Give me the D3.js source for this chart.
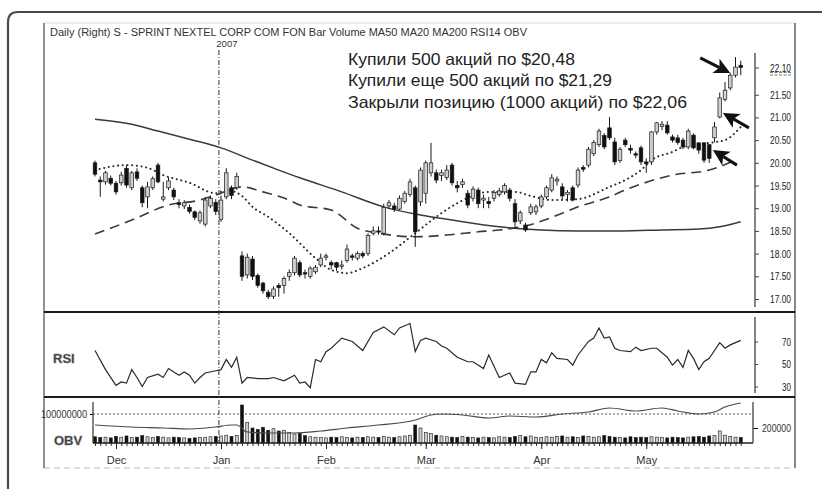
<!DOCTYPE html>
<html><head><meta charset="utf-8">
<script src="https://cdn.jsdelivr.net/npm/d3@7"></script>
<style>body{margin:0;background:#fff}svg{display:block}</style>
</head><body>
<svg id="c" width="822" height="489"></svg>
<script>
// ---- DATA ----
const open = [20.00,19.62,19.58,19.66,19.55,19.56,19.88,19.45,19.80,19.45,
19.25,19.45,19.95,19.20,19.45,19.40,19.12,19.05,19.02,18.92,
18.72,18.65,19.05,19.13,18.75,19.25,19.45,19.45,17.95,17.53,
17.88,17.52,17.35,17.15,17.06,17.30,17.30,17.50,17.58,17.80,
17.58,17.50,17.60,17.75,17.92,17.80,17.80,17.72,17.85,17.95,
17.90,18.00,18.00,18.45,18.50,18.45,19.05,19.05,18.98,19.15,
19.30,19.45,19.14,19.33,19.78,19.78,19.72,19.68,19.95,19.50,
19.52,19.33,19.22,19.40,19.18,19.15,19.22,19.30,19.36,19.40,
19.10,18.72,18.63,18.90,18.92,19.05,19.25,19.40,19.60,19.47,
19.30,19.45,19.51,19.90,19.95,20.20,20.40,20.60,20.77,20.46,
20.05,20.50,20.32,20.20,20.33,20.02,20.02,20.68,20.80,20.83,
20.57,20.55,20.50,20.35,20.61,20.44,20.44,20.40,20.55,21.01,
21.40,21.65,21.93,22.15];
const high = [20.05,19.70,19.82,19.72,19.60,19.80,19.95,19.82,19.88,19.50,
19.58,19.70,20.00,19.58,19.68,19.45,19.20,19.18,19.08,18.95,
18.95,19.25,19.28,19.20,19.28,19.88,19.50,19.78,18.05,18.00,
17.95,17.56,17.38,17.20,17.28,17.35,17.50,17.65,17.95,17.85,
17.65,17.72,17.75,18.00,18.00,17.85,17.82,17.85,18.20,18.00,
18.05,18.05,18.45,18.60,18.60,19.10,19.18,19.12,19.28,19.38,
19.65,19.50,19.90,20.05,20.44,19.85,19.85,19.95,20.00,19.60,
19.65,19.40,19.48,19.45,19.30,19.25,19.40,19.45,19.55,19.45,
19.20,18.95,18.68,19.10,19.08,19.30,19.50,19.75,19.70,19.55,
19.40,19.50,19.90,19.95,20.35,20.50,20.75,20.65,21.01,20.55,
20.35,20.55,20.40,20.25,20.38,20.10,20.70,20.90,20.92,20.92,
20.62,20.62,20.55,20.75,20.65,20.45,20.45,20.40,20.90,21.55,
21.78,21.98,22.33,22.25];
const low = [19.70,19.25,19.52,19.50,19.30,19.50,19.45,19.40,19.60,19.02,
19.00,19.40,19.55,19.15,19.40,19.18,19.00,18.98,18.88,18.74,
18.66,18.60,19.00,18.85,18.70,19.20,19.20,19.40,17.40,17.45,
17.42,17.25,17.12,17.00,17.00,17.05,17.12,17.40,17.52,17.48,
17.45,17.45,17.55,17.70,17.85,17.65,17.62,17.65,17.80,17.85,
17.85,17.90,17.95,18.40,18.42,18.40,18.98,18.92,18.95,19.10,
19.25,18.15,19.05,19.10,19.70,19.55,19.60,19.62,19.50,19.35,
19.45,19.00,19.15,19.00,19.00,19.00,19.15,19.25,19.30,19.15,
18.55,18.65,18.48,18.85,18.85,19.00,19.20,19.35,19.50,19.20,
19.15,19.15,19.45,19.80,19.90,20.15,20.35,20.30,20.50,19.95,
20.00,20.35,20.20,20.10,19.95,19.78,19.95,20.62,20.72,20.62,
20.45,20.40,20.30,20.30,20.30,20.20,20.00,20.00,20.45,20.98,
21.35,21.60,21.88,21.93];
const close = [19.75,19.58,19.78,19.55,19.36,19.73,19.51,19.78,19.66,19.12,
19.47,19.65,19.58,19.25,19.60,19.25,19.08,19.12,18.93,18.80,
18.90,19.18,19.22,18.93,19.18,19.78,19.28,19.70,17.50,17.92,
17.50,17.30,17.18,17.05,17.22,17.25,17.45,17.58,17.90,17.53,
17.55,17.68,17.70,17.90,17.95,17.75,17.70,17.75,18.10,17.92,
18.00,17.95,18.40,18.50,18.48,19.02,19.12,18.98,19.22,19.33,
19.58,18.48,19.84,20.00,20.00,19.62,19.78,19.84,19.56,19.45,
19.58,19.07,19.42,19.10,19.22,19.10,19.35,19.38,19.50,19.22,
18.70,18.90,18.52,19.03,19.03,19.25,19.45,19.67,19.64,19.27,
19.35,19.18,19.84,19.86,20.30,20.45,20.70,20.35,20.55,20.02,
20.30,20.40,20.28,20.17,20.02,19.98,20.68,20.88,20.85,20.66,
20.50,20.45,20.35,20.70,20.33,20.28,20.06,20.10,20.79,21.43,
21.60,21.93,22.11,22.10];
// volume, thousands of (hundreds of shares)
const volume = [83,73,78,68,88,78,94,73,78,99,83,73,88,78,68,78,73,68,62,68,73,78,83,88,
94,104,88,99,
507,273,200,180,210,170,190,160,170,140,120,130,99,83,
78,73,68,78,73,83,73,68,78,73,83,78,73,88,78,73,83,94,104,
240,200,143,125,104,94,
83,78,73,88,78,73,68,78,73,68,83,78,73,88,99,83,94,78,
73,83,78,88,94,78,83,73,94,88,78,83,99,88,78,73,68,83,73,78,
73,83,78,73,68,78,73,68,78,83,88,78,94,99,161,104,88,78,73];
// moving averages: [day index, price]
const ma20 = [[0,19.84],[6,19.95],[10,19.89],[13,19.73],[18,19.56],[23,19.33],[25,19.40],[28,19.27],[30,19.03],[33,18.81],[37,18.45],[42,17.90],[45,17.64],[48,17.57],[51,17.68],[56,18.01],[61,18.45],[65,18.81],[69,19.11],[75,19.36],[80,19.36],[83,19.27],[87,19.18],[92,19.20],[98,19.47],[101,19.62],[104,19.84],[106,20.06],[110,20.24],[112,20.35],[117,20.44],[120,20.50],[123,20.79]];
const ma50 = [[0,18.43],[7,18.74],[14,19.07],[20,19.18],[23,19.29],[28,19.47],[32,19.36],[37,19.18],[39,19.07],[45,18.96],[50,18.56],[54,18.45],[61,18.37],[67,18.41],[73,18.48],[77,18.52],[82,18.61],[89,18.89],[92,19.03],[98,19.25],[101,19.40],[110,19.73],[117,19.84],[122,20.06]];
const ma200 = [[0,20.96],[7,20.85],[12,20.70],[18,20.52],[24,20.33],[30,20.06],[35,19.84],[39,19.67],[47,19.36],[55,19.03],[62,18.85],[68,18.74],[77,18.59],[85,18.52],[92,18.50],[100,18.50],[108,18.52],[115,18.54],[119,18.59],[123,18.70]];
const rsi = [[0,62],[2,45],[4,31],[5,34],[6,33],[7,45],[8,38],[9,30],[10,38],[12,41],[13,38],[14,46],[16,40],[17,43],[18,40],[19,33],[20,38],[21,42],[23,44],[24,45],[25,54],[26,47],[27,56],[28,33],[29,38],[31,37],[33,37],[34,38],[36,35],[38,40],[39,33],[40,34],[41,29],[42,54],[43,52],[44,61],[45,64],[47,73],[49,70],[51,62],[53,78],[55,83],[57,76],[58,82],[60,86],[61,61],[62,71],[63,73],[65,70],[66,66],[67,64],[69,56],[71,52],[72,52],[74,46],[75,58],[77,38],[79,42],[80,33],[82,32],[83,43],[84,43],[85,54],[86,51],[87,60],[88,55],[90,54],[91,49],[92,58],[94,70],[95,73],[96,82],[97,73],[98,74],[99,64],[100,62],[102,61],[103,65],[104,62],[106,64],[107,64],[109,56],[110,49],[111,54],[112,47],[113,62],[114,55],[115,45],[116,52],[117,55],[119,69],[120,64],[121,67],[123,71]];
// OBV in millions
const obv = [[0,-10],[7,-30],[13,-40],[18,-50],[23,-30],[26,-10],[27,-10],[29,-80],[33,-90],[38,-90],[43,-70],[48,-40],[54,-10],[61,40],[64,90],[66,100],[70,90],[75,60],[79,80],[84,70],[89,100],[94,120],[98,160],[103,130],[108,160],[111,130],[115,100],[118,120],[120,170],[123,210]];
const priceTicks = [17.00,17.50,18.00,18.50,19.00,19.50,20.00,20.50,21.00,21.50,22.10];
const rsiTicks = [70,50,30];
const volTicks = [200];
const obvTicks = [100];
const months = ["Dec","Jan","Feb","Mar","Apr","May"];
const monthIdx = [4,24,44,63,85,105];
const yearMark = {i:23.6, label:"2007"};
const header = "Daily (Right) S - SPRINT NEXTEL CORP COM FON  Bar  Volume  MA50  MA20  MA200  RSI14  OBV";
const notes = ["Купили 500 акций по $20,48","Купили еще 500 акций по $21,29","Закрыли позицию (1000 акций) по $22,06"];
const arrows = [{i:121, p:21.98, dx:-30, dy:-15},{i:119.6, p:21.10, dx:26, dy:15},{i:117.7, p:20.28, dx:24, dy:15}];

// ---- DRAW ----
const F = "'Liberation Sans Narrow','Arial Narrow','Liberation Sans',Arial,sans-serif";
const FS = "'Liberation Sans',Arial,sans-serif";
const svg = d3.select("#c");
const n = close.length;
const x = d3.scaleLinear().domain([0, n-1]).range([95, 740.75]);
const yP = d3.scaleLinear().domain([17, 22.1]).range([299, 67.5]);
const yR = d3.scaleLinear().domain([30, 70]).range([386.5, 341.5]);
const yV = d3.scaleLinear().domain([0, 520]).range([443, 404]);
const yO = d3.scaleLinear().domain([-190, 220]).range([443, 402]);
const fit = (sel, w) => sel.attr("textLength", w).attr("lengthAdjust", "spacingAndGlyphs");

// frames
svg.append("path").attr("d","M822,12 H18 Q8,12 8,22 V489").attr("fill","none").attr("stroke","#4a4a4a").attr("stroke-width",2.2);
svg.append("line").attr("x1",44).attr("x2",795).attr("y1",23).attr("y2",23).attr("stroke","#d8d8d8");
svg.append("line").attr("x1",44).attr("x2",795).attr("y1",468).attr("y2",468).attr("stroke","#bbb").attr("stroke-dasharray","6,4");
svg.append("line").attr("x1",44).attr("x2",44).attr("y1",23).attr("y2",468).attr("stroke","#555").attr("stroke-width",1.3);
svg.append("line").attr("x1",795).attr("x2",795).attr("y1",23).attr("y2",468).attr("stroke","#555").attr("stroke-width",1.4);
[312, 397].forEach(yy => svg.append("line").attr("x1",44).attr("x2",795).attr("y1",yy).attr("y2",yy).attr("stroke","#1a1a1a").attr("stroke-width",2.2));

// header
fit(svg.append("text").attr("x",50).attr("y",36).attr("font-family",F).attr("font-size",10).attr("fill","#333").text(header), 477);
svg.append("text").attr("x",x(yearMark.i)+8).attr("y",47).attr("text-anchor","middle").attr("font-family",F).attr("font-size",9.5).attr("fill","#333").text(yearMark.label);
svg.append("line").attr("x1",x(yearMark.i)).attr("x2",x(yearMark.i)).attr("y1",50).attr("y2",443).attr("stroke","#333").attr("stroke-width",1).attr("stroke-dasharray","5,2,1,2");

// moving averages
const line = d3.line().x(d=>x(d[0])).y(d=>yP(d[1])).curve(d3.curveMonotoneX);
svg.append("path").attr("d",line(ma200)).attr("fill","none").attr("stroke","#3a3a3a").attr("stroke-width",1.5);
svg.append("path").attr("d",line(ma50)).attr("fill","none").attr("stroke","#3a3a3a").attr("stroke-width",1.6).attr("stroke-dasharray","10,6");
svg.append("path").attr("d",line(ma20)).attr("fill","none").attr("stroke","#2a2a2a").attr("stroke-width",2).attr("stroke-linecap","round").attr("stroke-dasharray","0.1,4.6");

// candles
const idx = d3.range(n);
const cg = svg.append("g");
cg.selectAll("line").data(idx).join("line")
  .attr("x1",i=>x(i)).attr("x2",i=>x(i)).attr("y1",i=>yP(high[i])).attr("y2",i=>yP(low[i]))
  .attr("stroke","#1a1a1a").attr("stroke-width",1);
cg.selectAll("rect").data(idx).join("rect")
  .attr("x",i=>x(i)-1.8).attr("width",3.6)
  .attr("y",i=>Math.min(yP(open[i]),yP(close[i])))
  .attr("height",i=>Math.max(1.2,Math.abs(yP(open[i])-yP(close[i]))))
  .attr("fill",i=>close[i]>=open[i]?"#cfcfcf":"#111").attr("stroke","#1a1a1a").attr("stroke-width",0.7);

// price axis
const pa = svg.append("g").attr("transform","translate(755,0)")
  .call(d3.axisRight(yP).tickValues(priceTicks).tickSize(4).tickFormat(d3.format(".2f")));
pa.select(".domain").remove();
pa.selectAll("line").attr("stroke","#444");
fit(pa.selectAll("text").attr("x",36).attr("text-anchor","end").attr("font-family",F).attr("font-size",11).attr("fill","#222"), 21);
svg.append("line").attr("x1",755).attr("x2",755).attr("y1",53).attr("y2",307).attr("stroke","#333").attr("stroke-width",1.2);
[0,2.5].forEach(o => svg.append("line").attr("x1",770).attr("x2",791).attr("y1",yP(22.1)+5+o).attr("y2",yP(22.1)+5+o).attr("stroke","#555").attr("stroke-width",0.8).attr("stroke-dasharray","3,1.5"));

// annotations
notes.forEach((t,k) => fit(svg.append("text").attr("x",348).attr("y",64.5+k*21.5).attr("font-family",FS).attr("font-size",16.5).attr("fill","#222").text(t), [227,264,339][k]));

// arrows
arrows.forEach(a => {
  const tx = x(a.i), ty = yP(a.p), sx = tx + a.dx, sy = ty + a.dy;
  const L = Math.hypot(a.dx, a.dy), ux = -a.dx / L, uy = -a.dy / L, px = -uy, py = ux;
  const hl = 16, hw = 8;
  const bx = tx - ux*hl, by = ty - uy*hl;
  svg.append("line").attr("x1",sx).attr("y1",sy).attr("x2",bx+ux*4).attr("y2",by+uy*4).attr("stroke","#111").attr("stroke-width",3);
  svg.append("path").attr("d",`M${tx},${ty} L${bx+px*hw},${by+py*hw} L${bx+ux*4},${by+uy*4} L${bx-px*hw},${by-py*hw} Z`).attr("fill","#111");
});

// RSI
svg.append("path").attr("d",d3.line().x(d=>x(d[0])).y(d=>yR(d[1]))(rsi)).attr("fill","none").attr("stroke","#2a2a2a").attr("stroke-width",1.2);
const ra = svg.append("g").attr("transform","translate(755,0)").call(d3.axisRight(yR).tickValues(rsiTicks).tickSize(3));
ra.select(".domain").remove();
ra.selectAll("line").attr("stroke","#444");
fit(ra.selectAll("text").attr("x",36).attr("text-anchor","end").attr("font-family",F).attr("font-size",11).attr("fill","#222"), 9);
svg.append("line").attr("x1",755).attr("x2",755).attr("y1",317).attr("y2",393).attr("stroke","#333").attr("stroke-width",1.2);
svg.append("text").attr("x",53).attr("y",363).attr("font-family",FS).attr("font-weight","bold").attr("font-size",13).attr("fill","#333").attr("stroke","#888").attr("stroke-width",0.5).text("RSI");

// OBV / volume panel
svg.append("line").attr("x1",93).attr("x2",753).attr("y1",yO(obvTicks[0])).attr("y2",yO(obvTicks[0])).attr("stroke","#555").attr("stroke-width",1).attr("stroke-dasharray","2,2");
const vg = svg.append("g");
vg.selectAll("rect").data(idx).join("rect")
  .attr("x",i=>x(i)-1.5).attr("width",3)
  .attr("y",i=>yV(volume[i])).attr("height",i=>443-yV(volume[i]))
  .attr("fill",i=>close[i]>=open[i]?"#cfcfcf":"#111").attr("stroke","#1a1a1a").attr("stroke-width",0.6);
svg.append("path").attr("d",d3.line().x(d=>x(d[0])).y(d=>yO(d[1])).curve(d3.curveMonotoneX)(obv)).attr("fill","none").attr("stroke","#4a4a4a").attr("stroke-width",1.2);
const oa = svg.append("g").attr("transform","translate(93,0)").call(d3.axisLeft(yO).tickValues(obvTicks).tickSize(3).tickFormat(d=>String(d*1e6)));
oa.select(".domain").remove();
fit(oa.selectAll("text").attr("font-family",F).attr("font-size",10).attr("fill","#333"), 46);
svg.append("line").attr("x1",93).attr("x2",93).attr("y1",402).attr("y2",443).attr("stroke","#333").attr("stroke-width",1.2);
const va = svg.append("g").attr("transform","translate(753,0)").call(d3.axisRight(yV).tickValues(volTicks).tickSize(5).tickFormat(d=>String(d*1000)));
va.select(".domain").remove();
fit(va.selectAll("text").attr("x",38).attr("text-anchor","end").attr("font-family",F).attr("font-size",10).attr("fill","#333"), 29);
svg.append("line").attr("x1",753).attr("x2",753).attr("y1",402).attr("y2",443).attr("stroke","#333").attr("stroke-width",1.2);
svg.append("text").attr("x",54).attr("y",445).attr("font-family",FS).attr("font-weight","bold").attr("font-size",13).attr("fill","#333").attr("stroke","#888").attr("stroke-width",0.5).text("OBV");

// bottom axis
const da = svg.append("g").attr("transform","translate(0,443)").call(d3.axisBottom(x).tickValues(idx).tickSize(3).tickFormat(""));
da.select(".domain").remove(); da.selectAll("line").attr("stroke","#333");
const ma = svg.append("g").attr("transform","translate(0,443)").call(d3.axisBottom(x).tickValues(monthIdx).tickSize(6).tickFormat((d,k)=>months[k]));
ma.select(".domain").remove(); ma.selectAll("line").attr("stroke","#222");
ma.selectAll("text").attr("y",13.5).attr("font-family",F).attr("font-size",11).attr("fill","#333");
svg.append("line").attr("x1",93).attr("x2",753).attr("y1",443).attr("y2",443).attr("stroke","#222").attr("stroke-width",1.3);
</script>
</body></html>
